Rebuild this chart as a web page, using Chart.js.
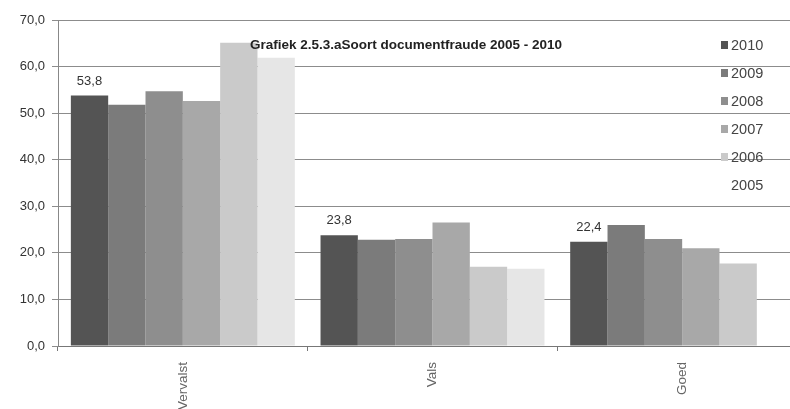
<!DOCTYPE html>
<html>
<head>
<meta charset="utf-8">
<script src="https://cdn.jsdelivr.net/npm/chart.js@4/dist/chart.umd.min.js"></script>
<style>
  html, body { margin: 0; padding: 0; background: #fff; overflow: hidden; }
  #wrap { position: absolute; left: 0; top: 0; width: 812px; height: 409px; }
</style>
</head>
<body>
<div id="wrap"><canvas id="fraudChart"></canvas></div>
<script>
const categories = ["Vervalst", "Vals", "Goed"];
const years = ["2010", "2009", "2008", "2007", "2006", "2005"];
const values2010 = [53.8, 23.8, 22.4];
const values2009 = [51.8, 22.8, 26.0];
const values2008 = [54.7, 23.0, 23.0];
const values2007 = [52.6, 26.5, 21.0];
const values2006 = [65.1, 17.0, 17.7];
const values2005 = [61.9, 16.6, null];
const yTicks = [0, 10, 20, 30, 40, 50, 60, 70];
const chartTitle = "Grafiek 2.5.3.aSoort documentfraude 2005 - 2010";

const seriesValues = [values2010, values2009, values2008, values2007, values2006, values2005];
const barColors = ["#545454", "#7b7b7b", "#8e8e8e", "#a8a8a8", "#cacaca", "#e6e6e6"];

const fmt = (v) => v.toFixed(1).replace(".", ",");

// title, legend and the 2010 value labels sit inside the plot like in the scan
const overlayPlugin = {
  id: "overlay",
  afterDatasetsDraw(chart) {
    const ctx = chart.ctx;
    ctx.save();

    // value labels on the first series
    ctx.font = "13px 'Liberation Sans', Arial, sans-serif";
    ctx.fillStyle = "#333";
    ctx.textAlign = "center";
    ctx.textBaseline = "bottom";
    chart.getDatasetMeta(0).data.forEach((bar, i) => {
      ctx.fillText(fmt(values2010[i]), bar.x, bar.y - 8);
    });

    // title
    ctx.font = "bold 13.5px 'Liberation Sans', Arial, sans-serif";
    ctx.fillStyle = "#222";
    ctx.textBaseline = "middle";
    ctx.fillText(chartTitle, 406, 45);

    // legend
    ctx.font = "14.5px 'Liberation Sans', Arial, sans-serif";
    ctx.textAlign = "left";
    chart.data.datasets.forEach((ds, i) => {
      const y = 45 + i * 28;
      ctx.fillStyle = ds.backgroundColor;
      if (i < 5) ctx.fillRect(721, y - 4, 7, 8);
      ctx.fillStyle = "#444";
      ctx.fillText(ds.label, 731, y + 1);
    });
    ctx.restore();
  }
};

new Chart(document.getElementById("fraudChart"), {
  type: "bar",
  data: {
    labels: categories,
    datasets: years.map((yr, i) => ({
      label: yr,
      data: seriesValues[i],
      backgroundColor: barColors[i],
      borderWidth: 0,
      barPercentage: 1.0,
      categoryPercentage: 0.897
    }))
  },
  plugins: [overlayPlugin],
  options: {
    animation: false,
    responsive: true,
    maintainAspectRatio: false,
    layout: { padding: { top: 20, right: 5, left: 0, bottom: 0 } },
    plugins: {
      legend: { display: false },
      title: { display: false },
      tooltip: { enabled: false }
    },
    scales: {
      x: {
        grid: { drawOnChartArea: false, tickLength: 5, color: "#777" },
        border: { color: "#777" },
        ticks: {
          minRotation: 90,
          maxRotation: 90,
          padding: 11,
          color: "#666",
          font: { family: "'Liberation Sans', Arial, sans-serif", size: 13.5 }
        },
        afterFit(scale) { scale.height = 63; }
      },
      y: {
        min: 0,
        max: 70,
        afterBuildTicks(scale) { scale.ticks = yTicks.map(v => ({ value: v })); },
        grid: { color: "#8c8c8c", tickLength: 6 },
        border: { color: "#888" },
        ticks: {
          padding: 7,
          color: "#333",
          font: { family: "'Liberation Sans', Arial, sans-serif", size: 13 },
          callback: (v) => fmt(v)
        },
        afterFit(scale) { scale.width = 58; }
      }
    }
  }
});
</script>
</body>
</html>
